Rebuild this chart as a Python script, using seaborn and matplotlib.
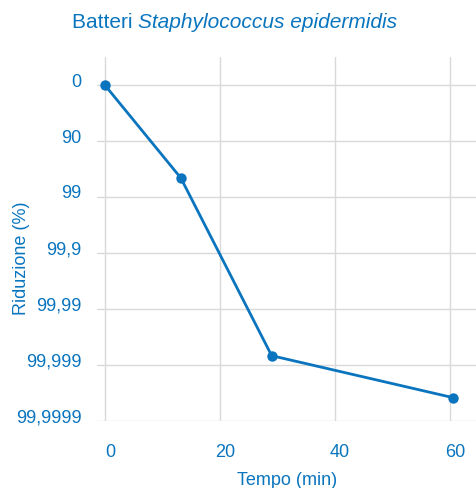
import numpy as np
import pandas as pd
import matplotlib.pyplot as plt
import matplotlib.transforms as mtransforms
import seaborn as sns

# dati (riduzione in log10)
tempo_min = [0, 13.2, 29, 60.5]
log_riduzione = [0, 1.66, 4.84, 5.59]
y_tick_labels = ['0', '90', '99', '99,9', '99,99', '99,999', '99,9999']
x_ticks = [0, 20, 40, 60]

blu = '#0a75be'

sns.set_style('white')
plt.rcParams['font.family'] = ['Liberation Sans', 'DejaVu Sans']

df = pd.DataFrame({'Tempo': tempo_min, 'Riduzione': log_riduzione})

fig = plt.figure(figsize=(4.77, 4.89), dpi=100)
ax = fig.add_axes([0.203, 0.138, 0.797, 0.743])

sns.lineplot(data=df, x='Tempo', y='Riduzione', ax=ax, color=blu, lw=2,
             marker='o', markersize=7.5, markeredgewidth=0, clip_on=False, zorder=3)

ax.set_xlim(-1.4, 64.7)
ax.set_ylim(6, -0.5)
ax.set_xticks(x_ticks)
ax.set_yticks(np.arange(len(y_tick_labels)))
ax.set_yticklabels(y_tick_labels)
ax.grid(True, color='#d9d9d9', lw=1)
for s in ax.spines.values():
    s.set_visible(False)
ax.tick_params(axis='both', length=0, labelsize=13, labelcolor=blu)
ax.tick_params(axis='y', pad=11)
ax.tick_params(axis='x', pad=16)

for lab in ax.get_yticklabels():
    lab.set_transform(lab.get_transform() + mtransforms.ScaledTranslation(0, 6 / 100, fig.dpi_scale_trans))
for lab in ax.get_xticklabels():
    lab.set_transform(lab.get_transform() + mtransforms.ScaledTranslation(5 / 100, 0, fig.dpi_scale_trans))

ax.set_xlabel('Tempo (min)', fontsize=13, color=blu, labelpad=8)
ax.set_ylabel('Riduzione (%)', fontsize=13, color=blu)
ax.yaxis.set_label_coords(-0.175, 0.45)

# titolo: parte normale + parte in corsivo
t1 = fig.text(72 / 477, 0.955, 'Batteri ', ha='left', va='center', fontsize=15, color=blu)
ax.annotate('Staphylococcus epidermidis', xy=(1, 0), xycoords=t1, ha='left', va='bottom',
            fontsize=15, color=blu, style='italic', annotation_clip=False)

fig.savefig('out.png', dpi=100)
